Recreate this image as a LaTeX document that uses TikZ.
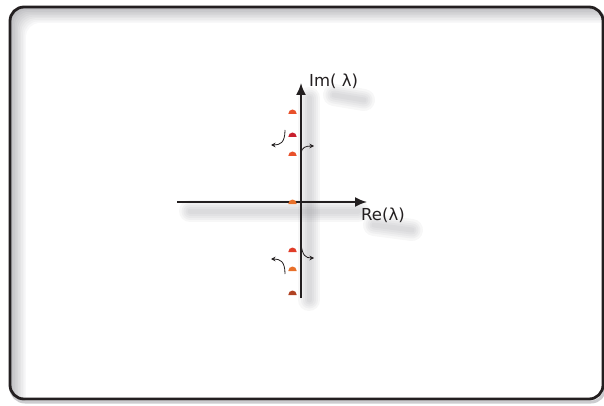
\documentclass[tikz,border=0pt]{standalone}
\usepackage{fontspec}
\setmainfont{DejaVu Sans}
\usetikzlibrary{arrows.meta}
\definecolor{ink}{HTML}{231F20}
\definecolor{haze}{HTML}{8E8E94}
\definecolor{poleA}{HTML}{E8502A}
\definecolor{poleB}{HTML}{C8202E}
\definecolor{poleC}{HTML}{E8702A}
\definecolor{poleD}{HTML}{E03C28}
\definecolor{poleE}{HTML}{B04222}

\begin{document}
\begin{tikzpicture}[x=1pt,y=-1pt,
  axis/.style={draw=ink,line width=1.8pt,-{Latex[length=12pt,width=10pt]}},
  hook/.style={draw=ink,line width=0.8pt,-{Stealth[length=4.5pt,width=4.5pt]}},
  glow/.style={haze,opacity=.07,line cap=round},
  lbl/.style={font=\fontsize{16.5}{18}\selectfont,text=ink,inner sep=0pt,anchor=base west}]
  \useasboundingbox (0,0) rectangle (604,406);
  % frame with its inner shadow
  \draw[haze!45,line width=3pt,rounded corners=14pt] (11,9) rectangle (605,402);
  \begin{scope}
    \clip[rounded corners=14pt] (10,7) rectangle (603,399);
    \foreach \k [evaluate=\k as \g using int(60-6*\k)] in {0,...,10}
      \fill[haze!\g!white,rounded corners=14pt] (10+1.6*\k,7+1.6*\k) rectangle (640,440);
  \end{scope}
  \draw[ink,line width=2.8pt,rounded corners=14pt] (10,7) rectangle (603,399);
  % axis ends
  \coordinate (im-bot) at (301,298);
  \coordinate (im-top) at (301,83);
  \coordinate (re-left) at (177,202);
  \coordinate (re-right) at (367,202);
  % soft shadows
  \foreach \w in {22,17,13,9,5} {
    \draw[glow,line width=\w pt] (309,98) -- (309,300);
    \draw[glow,line width=\w pt] (190,211) -- (358,211);
    \draw[glow,line width=\w pt] (334,95) -- (364,100);
    \draw[glow,line width=\w pt] (374,225) -- (412,230);
  }
  % axes
  \draw[axis] (im-bot) -- (im-top);
  \draw[axis] (re-left) -- (re-right);
  \node[lbl] (im) at (309,87) {Im( λ)};
  \node[lbl] (re) at (361,220) {Re(λ)};
  % eigenvalues
  \foreach \name/\y/\c in {p1/112/poleA,p2/135/poleB,p3/154/poleA,p4/202/poleC,p5/250/poleD,p6/269/poleC,p7/293/poleE} {
    \coordinate (\name) at (292.5,\y+2);
    \fill[\c] (\name) ++(-4.2,0) arc[start angle=180,end angle=360,x radius=4.2,y radius=4.5] -- cycle;
  }
  % motion of the eigenvalues
  \draw[hook] (285,130) .. controls (285,143) and (280,145) .. (271,145);
  \draw[hook] (301,153) .. controls (302,147) and (306,146) .. (314,146);
  \draw[hook] (301,243) .. controls (302,256) and (306,258) .. (314,258);
  \draw[hook] (285,274) .. controls (285,261) and (280,259) .. (271,259);
\end{tikzpicture}
\end{document}
